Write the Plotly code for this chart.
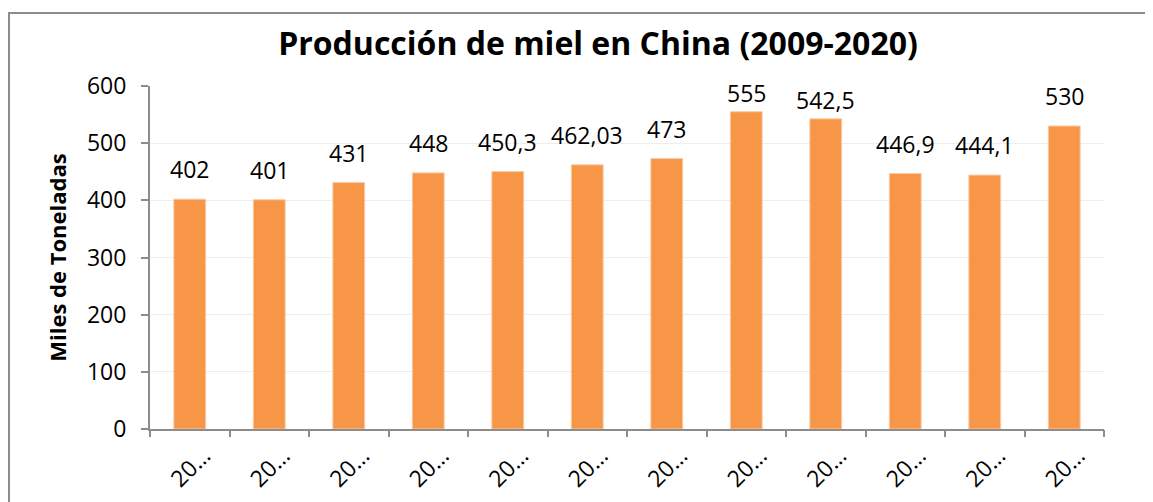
import plotly.graph_objects as go

years = [2009, 2010, 2011, 2012, 2013, 2014, 2015, 2016, 2017, 2018, 2019, 2020]
production = [402, 401, 431, 448, 450.3, 462.03, 473, 555, 542.5, 446.9, 444.1, 530]
tick_labels = [str(y)[:2] + "…" for y in years]
value_labels = [f"{v:g}".replace(".", ",") for v in production]

FONT = "Open Sans"
Y_MAX = 600
W, H = 1145, 494  # page adds an 8px body margin
ML, MR, MT, MB = 142, 49, 78, 73
PLOT_W = W - ML - MR
PLOT_H = H - MT - MB
PX_PER_UNIT = PLOT_H / Y_MAX
LABEL_BOX_PX = 40  # approx height of a data label incl. offset

idx = list(range(len(years)))

fig = go.Figure(
    go.Bar(
        x=idx,
        y=production,
        marker=dict(color="#F79646", line=dict(color="#FAC9A1", width=1)),
        customdata=years,
        hovertemplate="%{customdata}: %{y}<extra></extra>",
    )
)

annotations = []
for i, v, t in zip(idx, production, value_labels):
    fits = v + LABEL_BOX_PX / PX_PER_UNIT <= Y_MAX
    annotations.append(
        dict(
            x=i,
            y=v,
            xref="x",
            yref="y",
            text=t,
            showarrow=False,
            yanchor="bottom",
            yshift=12 if fits else 1,
            font=dict(family=FONT, size=23, color="#000000"),
        )
    )

fig.update_layout(
    width=W,
    height=H,
    margin=dict(l=ML, r=MR, t=MT, b=MB),
    paper_bgcolor="white",
    plot_bgcolor="white",
    bargap=0.6,
    showlegend=False,
    annotations=annotations,
    title=dict(
        text="<b>Producción de miel en China (2009-2020)</b>",
        x=(598 - 8) / W,
        xanchor="center",
        y=1 - (44 - 8) / H,
        yanchor="middle",
        font=dict(family=FONT, size=32, color="#000000"),
    ),
    font=dict(family=FONT, color="#000000"),
    xaxis=dict(
        range=[-0.5, len(years) - 0.5],
        tickvals=idx,
        ticktext=tick_labels,
        tickangle=-45,
        ticks="",
        ticklabelshift=14,
        ticklabelstandoff=2,
        showline=True,
        linecolor="#8c8c8c",
        linewidth=2,
        showgrid=False,
        zeroline=False,
        automargin=False,
        tickfont=dict(family=FONT, size=23, color="#000000"),
    ),
    xaxis2=dict(
        overlaying="x",
        range=[-0.5, len(years) - 0.5],
        tickvals=[i - 0.5 for i in idx] + [len(years) - 0.5],
        ticktext=[""] * (len(years) + 1),
        ticks="outside",
        ticklen=7,
        tickcolor="#8c8c8c",
        tickwidth=2,
        side="bottom",
        showgrid=False,
        zeroline=False,
        showline=False,
        automargin=False,
    ),
    yaxis=dict(
        range=[0, Y_MAX],
        tickvals=[0, 100, 200, 300, 400, 500, 600],
        ticks="outside",
        ticklen=7,
        tickcolor="#8c8c8c",
        tickwidth=2,
        ticklabelstandoff=10,
        showline=True,
        linecolor="#8c8c8c",
        linewidth=2,
        showgrid=True,
        gridcolor="#EDEDED",
        gridwidth=1,
        zeroline=False,
        automargin=False,
        tickfont=dict(family=FONT, size=23, color="#000000"),
        title=dict(
            text="<b>Miles de Toneladas</b>",
            font=dict(family=FONT, size=22, color="#000000"),
            standoff=14,
        ),
    ),
    shapes=[
        dict(
            type="rect",
            xref="paper",
            yref="paper",
            x0=-(ML - 1) / PLOT_W,
            x1=1.3,
            y0=-0.5,
            y1=1 + (MT - 5) / PLOT_H,
            line=dict(color="#8c8c8c", width=2),
            fillcolor="rgba(0,0,0,0)",
            layer="below",
        )
    ],
)

# invisible trace to activate the boundary-tick axis
fig.add_trace(go.Scatter(x=[None], y=[None], xaxis="x2", showlegend=False, hoverinfo="skip"))

fig.write_html("out.html")
